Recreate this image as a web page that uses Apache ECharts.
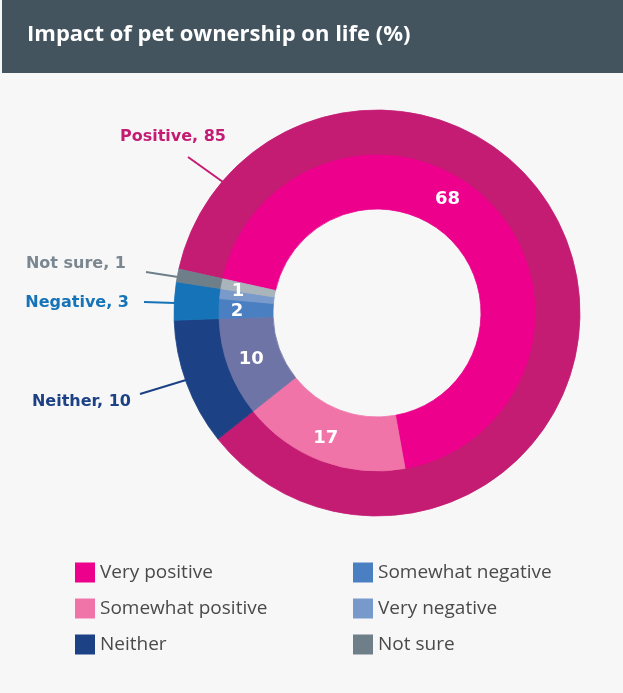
<!DOCTYPE html>
<html>
<head>
<meta charset="utf-8">
<script src="https://cdn.jsdelivr.net/npm/echarts@6/dist/echarts.min.js"></script>
<style>
  html, body { margin: 0; padding: 0; background: #f7f7f7; }
  #main { width: 623px; height: 693px; }
</style>
</head>
<body>
<div id="main"></div>
<script>
// inner ring: detailed answers
var innerNames = ['Very positive', 'Somewhat positive', 'Neither', 'Somewhat negative', 'Very negative', 'Not sure'];
var innerValues = [68, 17, 10, 2, 1, 1];
var innerColors = ['#ec008c', '#f074a8', '#6e74a6', '#4a7fc1', '#7a9acb', '#a9b4bb'];

// outer ring: grouped answers
var outerNames = ['Positive', 'Neither', 'Negative', 'Not sure'];
var outerValues = [85, 10, 3, 1];
var outerColors = ['#c41c73', '#1c4185', '#1773b8', '#6f7f8a'];

// legend
var legendLeft = ['Very positive', 'Somewhat positive', 'Neither'];
var legendRight = ['Somewhat negative', 'Very negative', 'Not sure'];
var legendColors = {
    'Very positive': '#ec008c', 'Somewhat positive': '#f074a8', 'Neither': '#1c4185',
    'Somewhat negative': '#4a80c2', 'Very negative': '#7899cb', 'Not sure': '#6f7f8a'
};

var chart = echarts.init(document.getElementById('main'));

// where the outer labels sit (right edge / middle) and their guide lines
var outerLabelPos = [
    {x: 226, y: 137, line: [[223, 182], [205.5, 169.5], [188, 157]]},
    {x: 131, y: 402, line: [[186, 380], [163, 387], [140, 394]]},
    {x: 129, y: 303, line: [[175, 303], [159.5, 302.5], [144, 302]]},
    {x: 126, y: 264, line: [[178, 277], [162, 274.5], [146, 272]]}
];
// small nudges for the inner numbers
var innerShift = [[-26, -21], [-4, 0], [0, 0], [-6, 2], [-6, -5], [0, 0]];

function legendData(names) {
    return names.map(function (n) {
        return {name: n, itemStyle: {color: legendColors[n], borderWidth: 0}};
    });
}

var legendBase = {
    orient: 'vertical',
    top: 561,
    padding: 0,
    itemWidth: 20,
    itemHeight: 20,
    itemGap: 13,
    icon: 'rect',
    selectedMode: false,
    itemStyle: {borderWidth: 0},
    textStyle: {fontFamily: 'Open Sans', fontSize: 19, lineHeight: 20, color: '#4a4a4a', padding: [3, 0, 0, 0]}
};

var option = {
    backgroundColor: '#f7f7f7',
    animation: false,
    graphic: [{
        type: 'rect',
        left: 2, top: 0,
        shape: {width: 621, height: 73},
        style: {fill: '#44545f'},
        z: 0
    }],
    title: {
        text: 'Impact of pet ownership on life (%)',
        left: 27, top: 24,
        padding: 0,
        textStyle: {fontFamily: 'Open Sans', fontWeight: 'bold', fontSize: 22, color: '#ffffff'},
        z: 10
    },
    legend: [
        Object.assign({}, legendBase, {left: 75, data: legendData(legendLeft)}),
        Object.assign({}, legendBase, {left: 353, data: legendData(legendRight)})
    ],
    series: [
        {
            type: 'pie',
            name: 'group',
            center: [377, 313],
            radius: [157, 203],
            startAngle: 167.5,
            clockwise: true,
            avoidLabelOverlap: false,
            data: outerNames.map(function (n, i) {
                return {name: n, value: outerValues[i],
                    itemStyle: {color: outerColors[i], borderColor: outerColors[i], borderWidth: 0.8},
                    label: {color: i === 3 ? '#7a8791' : outerColors[i]},
                    labelLine: {lineStyle: {color: outerColors[i]}}};
            }),
            label: {
                position: 'outside',
                formatter: '{b}, {c}',
                fontFamily: 'DejaVu Sans',
                fontWeight: 'bold',
                fontSize: 16
            },
            labelLine: {show: true, length: 10, length2: 10, lineStyle: {width: 2}},
            labelLayout: function (p) {
                var o = outerLabelPos[p.dataIndex];
                return {x: o.x, y: o.y, align: 'right', verticalAlign: 'middle', labelLinePoints: o.line};
            },
            emphasis: {disabled: true}
        },
        {
            type: 'pie',
            name: 'detail',
            center: [377, 313],
            radius: [104, 158],
            startAngle: 167.5,
            clockwise: true,
            avoidLabelOverlap: false,
            z: 3,
            data: innerNames.map(function (n, i) {
                return {name: n, value: innerValues[i],
                    itemStyle: {color: innerColors[i], borderColor: innerColors[i], borderWidth: 0.8},
                    label: {show: i !== 5}};
            }),
            label: {
                position: 'inside',
                formatter: '{c}',
                color: '#ffffff',
                fontFamily: 'DejaVu Sans',
                fontWeight: 'bold',
                fontSize: 18
            },
            labelLine: {show: false},
            labelLayout: function (p) {
                var s = innerShift[p.dataIndex];
                return {dx: s[0], dy: s[1]};
            },
            emphasis: {disabled: true}
        }
    ]
};

chart.setOption(option);
</script>
</body>
</html>
